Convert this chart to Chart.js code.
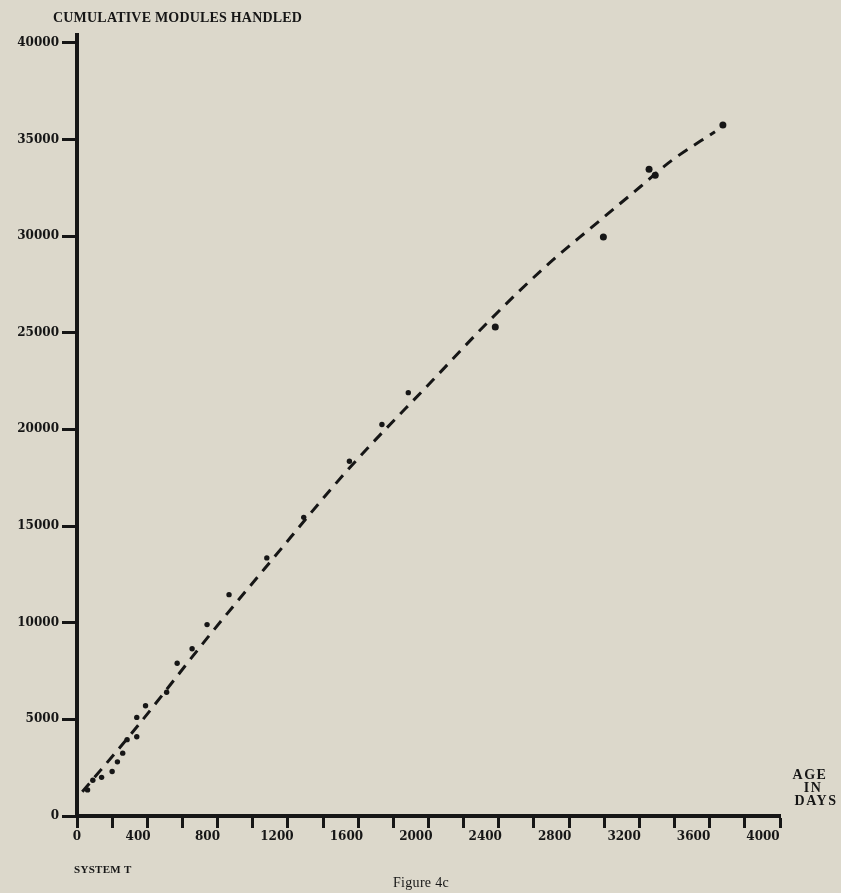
<!DOCTYPE html>
<html>
<head>
<meta charset="utf-8">
<title>Figure 4c - System T</title>
<script src="https://cdn.jsdelivr.net/npm/chart.js@4.4.1/dist/chart.umd.min.js"></script>
<style>
  html, body { margin: 0; padding: 0; background: #dcd8cb; }
  #fig { display: block; }
</style>
</head>
<body>
<canvas id="fig" width="841" height="893"></canvas>
<script>
const ageDays = [60, 90, 140, 200, 230, 260, 285, 340, 340, 390, 510, 570, 655, 740, 865,
  1080, 1290, 1550, 1735, 1885, 2380, 2995, 3255, 3290, 3675];
const modulesHandled = [1350, 1850, 2000, 2300, 2800, 3250, 3950, 4100, 5100, 5700, 6400, 7900, 8650, 9900, 11450,
  13350, 15450, 18350, 20250, 21900, 25300, 29950, 33450, 33150, 35750];

// dashed trend curve
const trendDays = [30, 340, 745, 1100, 1550, 2025, 2360, 2675, 2935, 3205, 3375, 3630];
const trendModules = [1250, 4600, 9250, 13150, 18000, 22550, 25750, 28500, 30500, 32550, 33850, 35400];

// axes
const yTicks = [0, 5000, 10000, 15000, 20000, 25000, 30000, 35000, 40000];
const xTicks = [0, 200, 400, 600, 800, 1000, 1200, 1400, 1600, 1800, 2000,
  2200, 2400, 2600, 2800, 3000, 3200, 3400, 3600, 3800, 4000];
const xLabelValues = [0, 400, 800, 1200, 1600, 2000, 2400, 2800, 3200, 3600, 4000];
const xLabels = ['0', '400', '800', '1200', '1600', '2000', '2400', '2800', '3200', '3600', '4000'];

const ink = '#161616';
const tickFont = { family: 'DejaVu Serif', size: 12, weight: 'bold' };

// printed captions around the plot
const captions = {
  id: 'captions',
  afterDraw(chart) {
    const ctx = chart.ctx;
    ctx.save();
    ctx.fillStyle = ink;
    ctx.textBaseline = 'middle';
    ctx.font = 'bold 14px "Liberation Serif"';
    ctx.letterSpacing = '0.2px';
    ctx.textAlign = 'left';
    ctx.fillText('CUMULATIVE MODULES HANDLED', 53, 18);
    ctx.letterSpacing = '1.5px';
    ctx.textAlign = 'center';
    ctx.fillText('AGE', 810, 775);
    ctx.fillText('IN', 813, 788);
    ctx.fillText('DAYS', 816, 801);
    ctx.letterSpacing = '0.3px';
    ctx.textAlign = 'left';
    ctx.font = 'bold 11px "Liberation Serif"';
    ctx.fillText('SYSTEM T', 74, 870);
    ctx.font = '14px "Liberation Serif"';
    ctx.fillText('Figure 4c', 393, 883);
    ctx.restore();
  }
};

new Chart(document.getElementById('fig'), {
  type: 'scatter',
  data: {
    datasets: [
      {
        type: 'line',
        label: 'trend',
        data: trendDays.map((d, i) => ({ x: d, y: trendModules[i] })),
        borderColor: ink,
        borderWidth: 3,
        borderDash: [11, 8],
        borderCapStyle: 'butt',
        pointRadius: 0,
        cubicInterpolationMode: 'monotone',
        fill: false,
      },
      {
        label: 'modules handled',
        data: ageDays.map((d, i) => ({ x: d, y: modulesHandled[i] })),
        backgroundColor: ink,
        borderWidth: 0,
        pointRadius: (c) => (c.raw && c.raw.x > 2300 ? 3.5 : 2.7),
      },
    ],
  },
  options: {
    responsive: false,
    animation: false,
    devicePixelRatio: 1,
    layout: { padding: { top: 35, right: 61, bottom: 0, left: 0 } },
    plugins: { legend: { display: false }, tooltip: { enabled: false } },
    scales: {
      x: {
        type: 'linear',
        position: 'bottom',
        min: 0,
        max: 4000,
        weight: 0,
        afterBuildTicks: (s) => { s.ticks = xTicks.map((v) => ({ value: v })); },
        afterFit: (s) => { s.height = 12; },
        border: { display: true, color: ink, width: 4 },
        grid: { drawOnChartArea: false, drawTicks: true, tickLength: 12, tickWidth: 3, tickColor: ink },
        ticks: { display: false },
      },
      // printed labels drift a little from the tick marks, so they sit on their own scale
      xLabels: {
        type: 'linear',
        position: 'bottom',
        min: 48,
        max: 4098,
        weight: 1,
        afterBuildTicks: (s) => { s.ticks = xLabelValues.map((v) => ({ value: Math.max(v, s.min) })); },
        afterFit: (s) => { s.height = 65; },
        border: { display: false },
        grid: { display: false, drawTicks: false },
        ticks: {
          padding: 2,
          color: ink,
          font: tickFont,
          maxRotation: 0,
          autoSkip: false,
          callback: (v, i) => xLabels[i],
        },
      },
      y: {
        type: 'linear',
        min: 0,
        max: 40400,
        afterBuildTicks: (s) => { s.ticks = yTicks.map((v) => ({ value: v })); },
        afterFit: (s) => { s.width = 77; },
        border: { display: true, color: ink, width: 4 },
        grid: { drawOnChartArea: false, tickLength: 15, tickWidth: 3, tickColor: ink },
        ticks: { padding: 3, color: ink, font: tickFont, callback: (v) => String(v) },
      },
    },
  },
  plugins: [captions],
});
</script>
</body>
</html>
